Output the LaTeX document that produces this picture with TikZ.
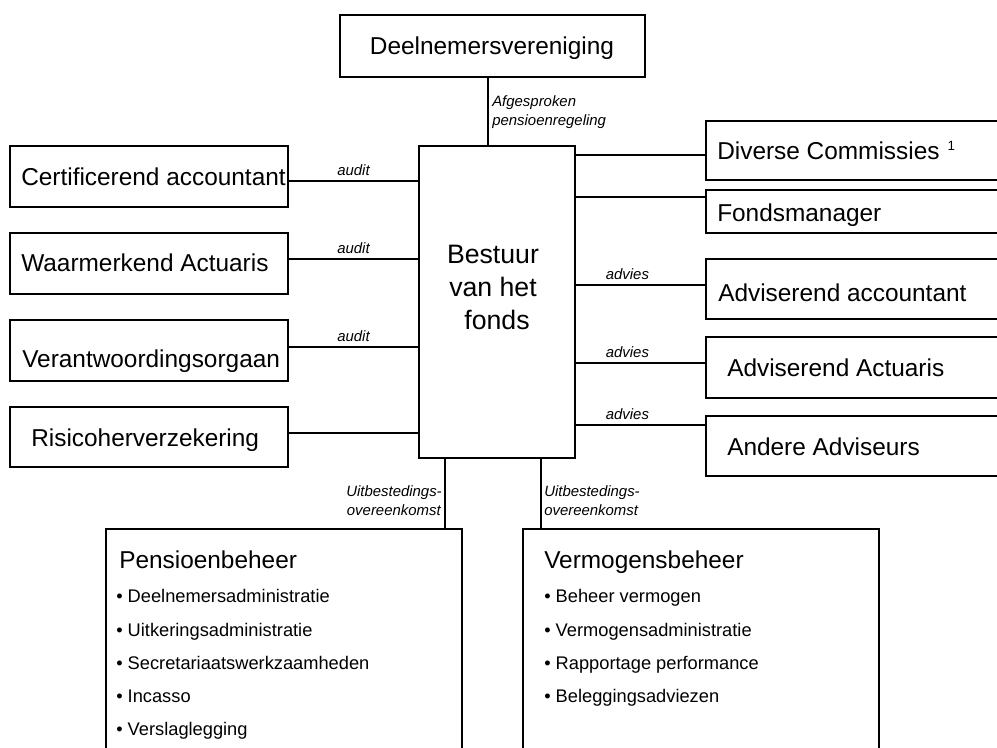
\documentclass[tikz,border=0pt]{standalone}
\usepackage{fontspec}
\setmainfont{Liberation Sans}
\begin{document}
\begin{tikzpicture}[x=0.75pt,y=-0.75pt,
  box/.style={draw,line width=0.8pt,inner sep=0pt,outer sep=0pt,anchor=north west},
  conn/.style={line width=0.8pt},
  ttl/.style={inner sep=0pt,anchor=base west,font=\fontsize{18.3}{21}\selectfont},
  ctr/.style={inner sep=0pt,anchor=base,font=\fontsize{18.3}{21}\selectfont},
  bul/.style={inner sep=0pt,anchor=base west,font=\fontsize{13.7}{16}\selectfont},
  lbl/.style={font=\fontsize{11.2}{13}\selectfont\itshape},
  lblw/.style={inner sep=0pt,anchor=base west,font=\fontsize{11.2}{13}\selectfont\itshape},
  lble/.style={inner sep=0pt,anchor=base east,font=\fontsize{11.2}{13}\selectfont\itshape}]
\useasboundingbox (0,0) rectangle (997,747);
\clip (0,0) rectangle (997,747);

% boxes
\node[box,minimum width={305*0.75pt},minimum height={62*0.75pt}] (deel) at (340,15) {};
\node[box,minimum width={278*0.75pt},minimum height={61*0.75pt}] (cert) at (10,146) {};
\node[box,minimum width={278*0.75pt},minimum height={61*0.75pt}] (waar) at (10,233) {};
\node[box,minimum width={278*0.75pt},minimum height={61*0.75pt}] (verant) at (10,320) {};
\node[box,minimum width={278*0.75pt},minimum height={60*0.75pt}] (risico) at (10,407) {};
\node[box,minimum width={156*0.75pt},minimum height={312*0.75pt}] (bestuur) at (419,146) {};
\node[box,minimum width={304*0.75pt},minimum height={59*0.75pt}] (diverse) at (706,121) {};
\node[box,minimum width={304*0.75pt},minimum height={43*0.75pt}] (fonds) at (706,190) {};
\node[box,minimum width={304*0.75pt},minimum height={60*0.75pt}] (advacc) at (706,259) {};
\node[box,minimum width={304*0.75pt},minimum height={61*0.75pt}] (advact) at (706,337) {};
\node[box,minimum width={304*0.75pt},minimum height={60*0.75pt}] (andere) at (706,416) {};
\node[box,minimum width={356*0.75pt},minimum height={240*0.75pt}] (pens) at (106,529) {};
\node[box,minimum width={356*0.75pt},minimum height={240*0.75pt}] (verm) at (523,529) {};

% box texts
\node[ctr] (tdeel) at (492,54) {Deelnemersvereniging};
\node[ttl] (tcert) at (21,185) {Certificerend accountant};
\node[ttl] (twaar) at (21,271) {Waarmerkend Actuaris};
\node[ttl] (tverant) at (22,367) {Verantwoordingsorgaan};
\node[ttl] (trisico) at (31,446) {Risicoherverzekering};
\node[ttl] (tdiverse) at (717,159) {Diverse Commissies\hspace{6pt}\raisebox{6.4pt}{\fontsize{10}{11}\selectfont 1}};
\node[ttl] (tfonds) at (717,221) {Fondsmanager};
\node[ttl] (tadvacc) at (718,301) {Adviserend accountant};
\node[ttl] (tadvact) at (727,376) {Adviserend Actuaris};
\node[ttl] (tandere) at (727,455) {Andere Adviseurs};
\node[inner sep=0pt,anchor=base,font=\fontsize{20}{24}\selectfont] (tb1) at (493,263) {Bestuur};
\node[inner sep=0pt,anchor=base,font=\fontsize{20}{24}\selectfont] (tb2) at (493,296) {van het};
\node[inner sep=0pt,anchor=base,font=\fontsize{20}{24}\selectfont] (tb3) at (497,329) {fonds};

\node[ttl] (tpens) at (119,568) {Pensioenbeheer};
\node[bul] (p1) at (116,602) {• Deelnemersadministratie};
\node[bul] (p2) at (116,636) {• Uitkeringsadministratie};
\node[bul] (p3) at (116,669) {• Secretariaatswerkzaamheden};
\node[bul] (p4) at (116,702) {• Incasso};
\node[bul] (p5) at (116,735) {• Verslaglegging};

\node[ttl] (tverm) at (544,568) {Vermogensbeheer};
\node[bul] (v1) at (544,602) {• Beheer vermogen};
\node[bul] (v2) at (544,636) {• Vermogensadministratie};
\node[bul] (v3) at (544,669) {• Rapportage performance};
\node[bul] (v4) at (544,702) {• Beleggingsadviezen};

% connectors
\draw[conn] (deel.south -| 488,0) -- (bestuur.north -| 488,0);
\node[lblw] (la1) at (492,106) {Afgesproken};
\node[lblw] (la2) at (492,125) {pensioenregeling};

\draw[conn] (cert.east |- 0,181) -- node[lbl,above] (lc) {audit} (bestuur.west |- 0,181);
\draw[conn] (waar.east |- 0,259) -- node[lbl,above] (lw) {audit} (bestuur.west |- 0,259);
\draw[conn] (verant.east |- 0,347) -- node[lbl,above] (lv) {audit} (bestuur.west |- 0,347);
\draw[conn] (risico.east |- 0,433) -- (bestuur.west |- 0,433);

\draw[conn] (bestuur.east |- 0,155) -- (diverse.west |- 0,155);
\draw[conn] (bestuur.east |- 0,197) -- (fonds.west |- 0,197);
\draw[conn] (bestuur.east |- 0,285) -- node[lbl,above,pos=0.4] (la) {advies} (advacc.west |- 0,285);
\draw[conn] (bestuur.east |- 0,363) -- node[lbl,above,pos=0.4] (lb) {advies} (advact.west |- 0,363);
\draw[conn] (bestuur.east |- 0,425) -- node[lbl,above,pos=0.4] (ld) {advies} (andere.west |- 0,425);

\draw[conn] (bestuur.south -| 445,0) -- (pens.north -| 445,0);
\draw[conn] (bestuur.south -| 541,0) -- (verm.north -| 541,0);
\node[lble] (lu1) at (442,496) {Uitbestedings-};
\node[lble] (lu2) at (441,515) {overeenkomst};
\node[lblw] (lu3) at (544,496) {Uitbestedings-};
\node[lblw] (lu4) at (544,515) {overeenkomst};
\end{tikzpicture}
\end{document}
